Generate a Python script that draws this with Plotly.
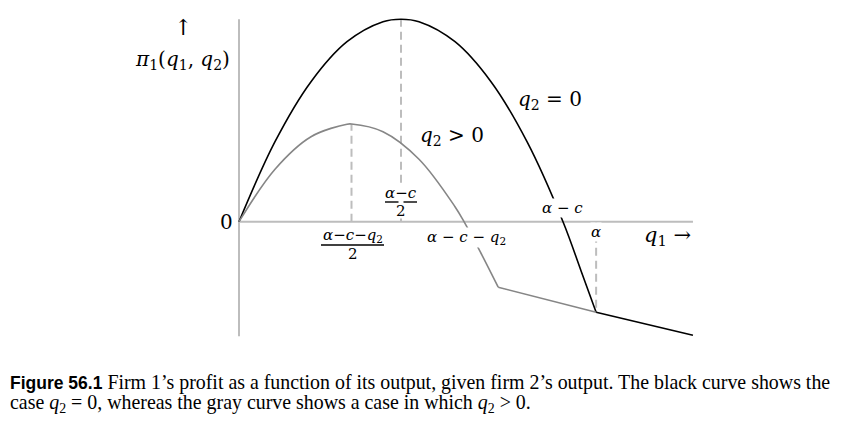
import plotly.graph_objects as go

# ---- data (q1 in units where alpha-c = 9) ----
black_q1 = [0, 1, 2, 3, 4, 4.5, 5, 6, 7, 8, 9, 9.5, 9.92]
black_pi = [0, 8, 14, 18, 20, 20.25, 20, 18, 14, 8, 0, -4.9, -9.05]
black_tail_q1 = [9.92, 12.61]
black_tail_pi = [-9.05, -11.35]

gray_q1 = [0, 1, 2, 3, 3.125, 4, 5, 6, 6.25, 6.7, 7.2]
gray_pi = [0, 5.25, 8.5, 9.75, 9.77, 9, 6.25, 1.5, 0, -3.0, -6.55]
gray_tail_q1 = [7.2, 9.92]
gray_tail_pi = [-6.55, -9.05]

peak_black = (4.5, 20.25)
peak_gray = (3.125, 9.77)
alpha = 9.92
x_axis_end = 12.61
y_axis_top = 20.25
y_axis_bottom = -11.45

W, H = 842, 423
X0PX, Y0PX, SX, SY = 239, 221.7, 36.0, 10.0

fig = go.Figure()
fig.add_trace(go.Scatter(x=black_q1, y=black_pi, mode="lines",
                         line=dict(color="black", width=1.6, shape="spline", smoothing=1.0)))
fig.add_trace(go.Scatter(x=black_tail_q1, y=black_tail_pi, mode="lines",
                         line=dict(color="black", width=1.6)))
fig.add_trace(go.Scatter(x=gray_q1, y=gray_pi, mode="lines",
                         line=dict(color="#868686", width=1.6, shape="spline", smoothing=1.0)))
fig.add_trace(go.Scatter(x=gray_tail_q1, y=gray_tail_pi, mode="lines",
                         line=dict(color="#868686", width=1.6)))

axis_col = "#bdbdbd"
dash = "8px,5px"
shapes = [
    dict(type="line", x0=0, x1=x_axis_end, y0=0, y1=0, line=dict(color=axis_col, width=2), layer="below"),
    dict(type="line", x0=0, x1=0, y0=y_axis_bottom, y1=y_axis_top, line=dict(color=axis_col, width=2), layer="below"),
    dict(type="line", x0=peak_black[0], x1=peak_black[0], y0=0, y1=peak_black[1],
         line=dict(color=axis_col, width=2, dash=dash), layer="below"),
    dict(type="line", x0=peak_gray[0], x1=peak_gray[0], y0=0, y1=peak_gray[1],
         line=dict(color=axis_col, width=2, dash=dash), layer="below"),
    dict(type="line", x0=alpha, x1=alpha, y0=0, y1=black_tail_pi[0],
         line=dict(color=axis_col, width=2, dash=dash), layer="below"),
]


def py(p):  # pixel -> data y
    return (Y0PX - p) / SY


def px(p):
    return (p - X0PX) / SX


# fraction bars
shapes.append(dict(type="line", x0=px(385), x1=px(417), y0=py(202), y1=py(202),
                   line=dict(color="black", width=1.4), layer="above"))
shapes.append(dict(type="line", x0=px(321), x1=px(384), y0=py(245), y1=py(245),
                   line=dict(color="black", width=1.4), layer="above"))

F = "DejaVu Serif"
ann = []


def A(x, y, text, size, bg=None, xa="center"):
    d = dict(x=x, y=y, text=text, showarrow=False, font=dict(family=F, size=size, color="black"),
             xanchor=xa, yanchor="middle")
    if bg:
        d["bgcolor"] = bg
        d["borderpad"] = 0
    ann.append(d)


A(px(183), py(27), "↑", 22)
A(px(182), py(60), "<i>π</i><sub>1</sub>(<i>q</i><sub>1</sub>, <i>q</i><sub>2</sub>)", 20)
A(px(226.5), py(222), "0", 20)
A(px(550), py(100), "<i>q</i><sub>2</sub> = 0", 20)
A(px(452), py(136), "<i>q</i><sub>2</sub> > 0", 20)
# (alpha-c)/2  (white block hides the dashed line behind the fraction)
ann.append(dict(x=px(401), y=py(201), text=" <br> ", showarrow=False, bgcolor="white",
                font=dict(family=F, size=14), xanchor="center", yanchor="middle", borderpad=0))
A(px(401), py(193), "<i>α</i>−<i>c</i>", 15)
A(px(401), py(211), "2", 15)
# (alpha-c-q2)/2
A(px(352.5), py(235), "<i>α</i>−<i>c</i>−<i>q</i><sub>2</sub>", 15)
A(px(352.5), py(254), "2", 15)
A(px(466), py(237), "<i>α</i> − <i>c</i> − <i>q</i><sub>2</sub>", 15, bg="white")
A(px(562.5), py(208), "<i>α</i> − <i>c</i>", 15, bg="white")
A(alpha, py(232), "<i>α</i>", 15, bg="white")
A(px(667), py(236), "<i>q</i><sub>1</sub> →", 21)

CF = "Liberation Serif"
ann.append(dict(x=8 / W, y=1 - 382 / H, xref="paper", yref="paper", xanchor="left", yanchor="middle",
                showarrow=False, align="left",
                text="<span style='font-family:Liberation Sans;font-size:17.5px'><b>Figure 56.1</b></span> Firm 1’s profit as a function of its output, given firm 2’s output. The black curve shows the",
                font=dict(family=CF, size=19.9, color="black")))
ann.append(dict(x=8 / W, y=1 - 403 / H, xref="paper", yref="paper", xanchor="left", yanchor="middle",
                showarrow=False, align="left",
                text="case <i>q</i><sub>2</sub> = 0, whereas the gray curve shows a case in which <i>q</i><sub>2</sub> > 0.",
                font=dict(family=CF, size=19.9, color="black")))

fig.update_layout(
    width=W, height=H, margin=dict(l=0, r=0, t=0, b=0),
    paper_bgcolor="white", plot_bgcolor="white", showlegend=False,
    xaxis=dict(range=[-X0PX / SX, (W - X0PX) / SX], visible=False, fixedrange=True),
    yaxis=dict(range=[(Y0PX - H) / SY, Y0PX / SY], visible=False, fixedrange=True),
    shapes=shapes, annotations=ann,
)
fig.write_html("out.html", config={"displayModeBar": False},
               post_script="document.body.style.margin='0px';document.body.style.overflow='hidden';")
